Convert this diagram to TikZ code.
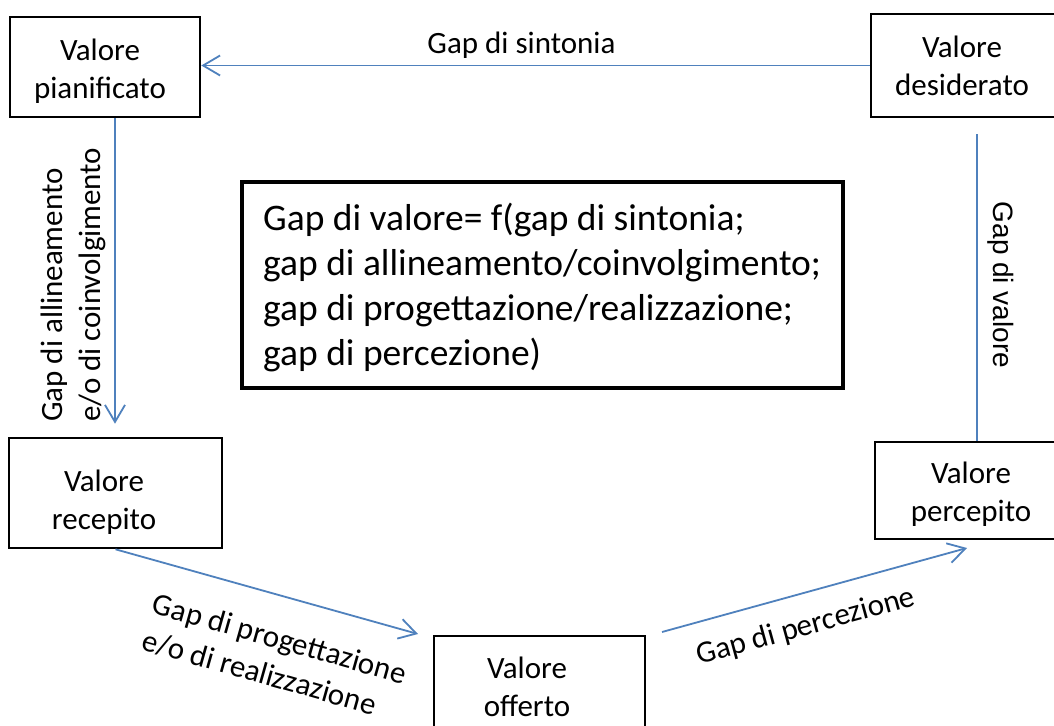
\documentclass[tikz,border=0pt]{standalone}
\usepackage{fontspec}
\setmainfont{Carlito}
\newfontfamily\arialfont{Liberation Sans}
\usetikzlibrary{arrows.meta,calc}
\definecolor{linkblue}{RGB}{79,129,189}
\begin{document}
\begin{tikzpicture}[x=1pt,y=-1pt,
  box/.style={draw=black, line width=2.6pt, inner sep=0pt},
  boxtext/.style={font=\fontsize{31}{38}\selectfont, align=center, inner sep=0pt},
  gaplabel/.style={font=\fontsize{31}{38}\selectfont, inner sep=0pt},
  link/.style={draw=linkblue, line width=1.8pt},
  tip/.style={-{Straight Barb[length=17pt,width=20pt]}}
]
\useasboundingbox (0,0) rectangle (1054,725);
\fill[white] (0,0) rectangle (1054,725);
\clip (0,0) rectangle (1054,725);

% value boxes
\node[box, minimum width=190pt, minimum height=100pt] (plan) at (105,67) {};
\node[boxtext] (planT) at (100,71.4) {\strut Valore\\\strut pianificato};

\node[box, minimum width=186pt, minimum height=103pt] (desid) at (964,65.5) {};
\node[boxtext] (desidT) at (962,69.4) {\strut Valore\\\strut desiderato};

\node[box, minimum width=213pt, minimum height=110pt] (rec) at (115.5,493) {};
\node[boxtext] (recT) at (104,502.4) {\strut Valore\\\strut recepito};

\node[box, minimum width=183pt, minimum height=97pt] (perc) at (966.5,490.5) {};
\node[boxtext] (percT) at (971,494.4) {\strut Valore\\\strut percepito};

\node[box, minimum width=211pt, minimum height=100pt] (off) at (539.5,686) {};
\node[boxtext] (offT) at (527,689.4) {\strut Valore\\\strut offerto};

% central formula
\node[box, line width=3.5pt, minimum width=601pt, minimum height=206pt] (gapf) at (542.5,285) {};
\node[font=\fontsize{37.5}{45}\selectfont, align=left, anchor=north west, inner sep=0pt] (gapfT) at (263,198.5)
  {\strut Gap di valore= f(gap di sintonia;\\
   \strut gap di allineamento/coinvolgimento;\\
   \strut gap di progettazione/realizzazione;\\
   \strut gap di percezione)};

% connectors
\draw[link, tip] (desid.west) -- (desid.west -| plan.east);

\coordinate (allS) at ($(plan.south)+(10,0)$);
\coordinate (allE) at (allS |- rec.north);
\draw[link, tip, shorten >=13pt] (allS) -- (allE);

\coordinate (valT) at (977,134);
\draw[link] (valT) -- (valT |- perc.north);

\coordinate (progE) at (418,634);
\draw[link, tip] (rec.south) -- (progE);

\coordinate (offS) at (662,632);
\coordinate (percE) at (967,548);
\draw[link, tip] (offS) -- (percE);

% gap labels
\node[gaplabel, anchor=base] (sint) at (521.5,53) {Gap di sintonia};
\node[gaplabel, align=left, rotate=90, anchor=west] (alli) at (73.4,422)
  {\strut Gap di allineamento\\\strut e/o di coinvolgimento};
\node[font=\arialfont\fontsize{28}{34}\selectfont, inner sep=0pt, rotate=-90, anchor=base] (val) at (993,285) {Gap di valore};
\node[gaplabel, align=left, rotate=-15.8] (prog) at (274,659.5)
  {\strut Gap di progettazione\\\strut e/o di realizzazione};
\node[gaplabel, rotate=15.4, anchor=base] (percG) at (808,635) {Gap di percezione};
\end{tikzpicture}
\end{document}
